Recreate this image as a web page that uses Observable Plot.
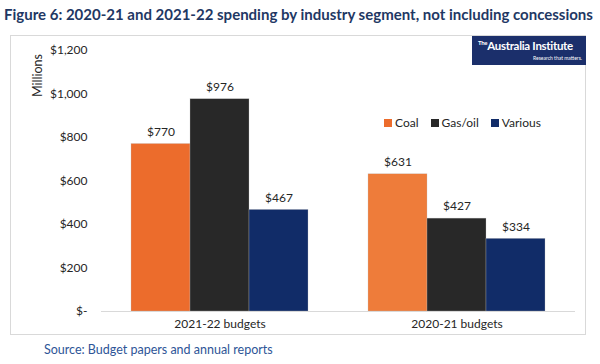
<!DOCTYPE html>
<html>
<head>
<meta charset="utf-8">
<script src="https://cdn.jsdelivr.net/npm/d3@7"></script>
<script src="https://cdn.jsdelivr.net/npm/@observablehq/plot@0.6"></script>
<style>
  html, body { margin: 0; padding: 0; background: #fff; }
  #wrap { position: relative; width: 600px; height: 364px; overflow: hidden; font-family: Lato, "Liberation Sans", sans-serif; }
  #title { position: absolute; left: 4px; top: 5px; font-size: 15px; font-weight: bold; color: #1F3864; white-space: nowrap; }
  #box { position: absolute; left: 10px; top: 35px; width: 576px; height: 300px; border: 1px solid #d9d9d9; box-sizing: border-box; }
  #chart { position: absolute; left: 10px; top: 35px; }
  #logo { position: absolute; left: 472px; top: 36px; width: 114px; height: 29px; background: #1B2F6B; color: #fff; }
  #logo .l1 { position: absolute; left: 6px; top: 3px; font-size: 11.5px; font-weight: bold; letter-spacing: -0.3px; white-space: nowrap; }
  #logo .l1 sup { font-size: 6px; }
  #logo .l2 { position: absolute; right: 4px; top: 19px; font-size: 5px; white-space: nowrap; }
  #legend { position: absolute; left: 384px; top: 115px; font-size: 12px; color: #262626; display: flex; gap: 12px; }
  #legend span { display: inline-flex; align-items: center; }
  #legend i { display: inline-block; width: 8px; height: 8px; margin-right: 3px; }
  #source { position: absolute; left: 44px; top: 342px; font-size: 12.5px; color: #2E5597; }
  #ylab { position: absolute; left: 31px; top: 97px; transform: rotate(-90deg); transform-origin: 0 0; font-size: 12.5px; line-height: 14px; color: #262626; white-space: nowrap; }
</style>
</head>
<body>
<div id="wrap">
  <div id="title">Figure 6: 2020-21 and 2021-22 spending by industry segment, not including concessions</div>
  <div id="box"></div>
  <div id="chart"></div>
  <div id="logo"><div class="l1"><sup>The</sup>Australia Institute</div><div class="l2">Research that matters.</div></div>
  <div id="legend"></div>
  <div id="ylab">Millions</div>
  <div id="source">Source: Budget papers and annual reports</div>
</div>
<script>
const budgets = ["2021-22 budgets", "2020-21 budgets"];
const series = ["Coal", "Gas/oil", "Various"];
const coalValues = [770, 631];
const gasOilValues = [976, 427];
const variousValues = [467, 334];
const yTicks = [0, 200, 400, 600, 800, 1000, 1200];

const colors = { "Coal": "#EC6C2C", "Gas/oil": "#282828", "Various": "#112C68" };

const seriesValues = { "Coal": coalValues, "Gas/oil": gasOilValues, "Various": variousValues };
const data = [];
budgets.forEach((b, i) => series.forEach(s => data.push({ budget: b, series: s, value: seriesValues[s][i] })));

const fillFor = d => (d.series === "Coal" && d.budget === budgets[1]) ? "#EE7C3A" : colors[d.series];
const fmtMoney = d => d === 0 ? "$-" : "$" + d3.format(",")(d);

const chart = Plot.plot({
  width: 576,
  height: 300,
  marginLeft: 90,
  marginRight: 11,
  marginTop: 15,
  marginBottom: 24,
  style: { fontFamily: "Lato, 'Liberation Sans', sans-serif", fontSize: "12px", color: "#262626", background: "transparent" },
  fx: { domain: budgets, padding: 0, label: null, axis: "bottom", tickSize: 0, tickPadding: 8 },
  x: { domain: series, padding: 0, paddingOuter: 0.5, axis: null },
  y: { domain: [0, 1200], ticks: yTicks, tickFormat: fmtMoney, label: null, tickSize: 0, tickPadding: 14 },
  marks: [
    Plot.barY(data, { fx: "budget", x: "series", y: "value", fill: fillFor, stroke: "#bfbfbf", strokeWidth: 0.5, strokeOpacity: 0.6 }),
    Plot.text(data, { fx: "budget", x: "series", y: "value", text: d => fmtMoney(d.value), dy: -12, fill: "#262626", fontSize: 12 }),
    Plot.ruleY([0], { stroke: "#d9d9d9", strokeWidth: 1 })
  ]
});
document.getElementById("chart").appendChild(chart);

const legend = document.getElementById("legend");
series.forEach(s => {
  const el = document.createElement("span");
  el.innerHTML = `<i style="background:${colors[s]}"></i>${s}`;
  legend.appendChild(el);
});
</script>
</body>
</html>
